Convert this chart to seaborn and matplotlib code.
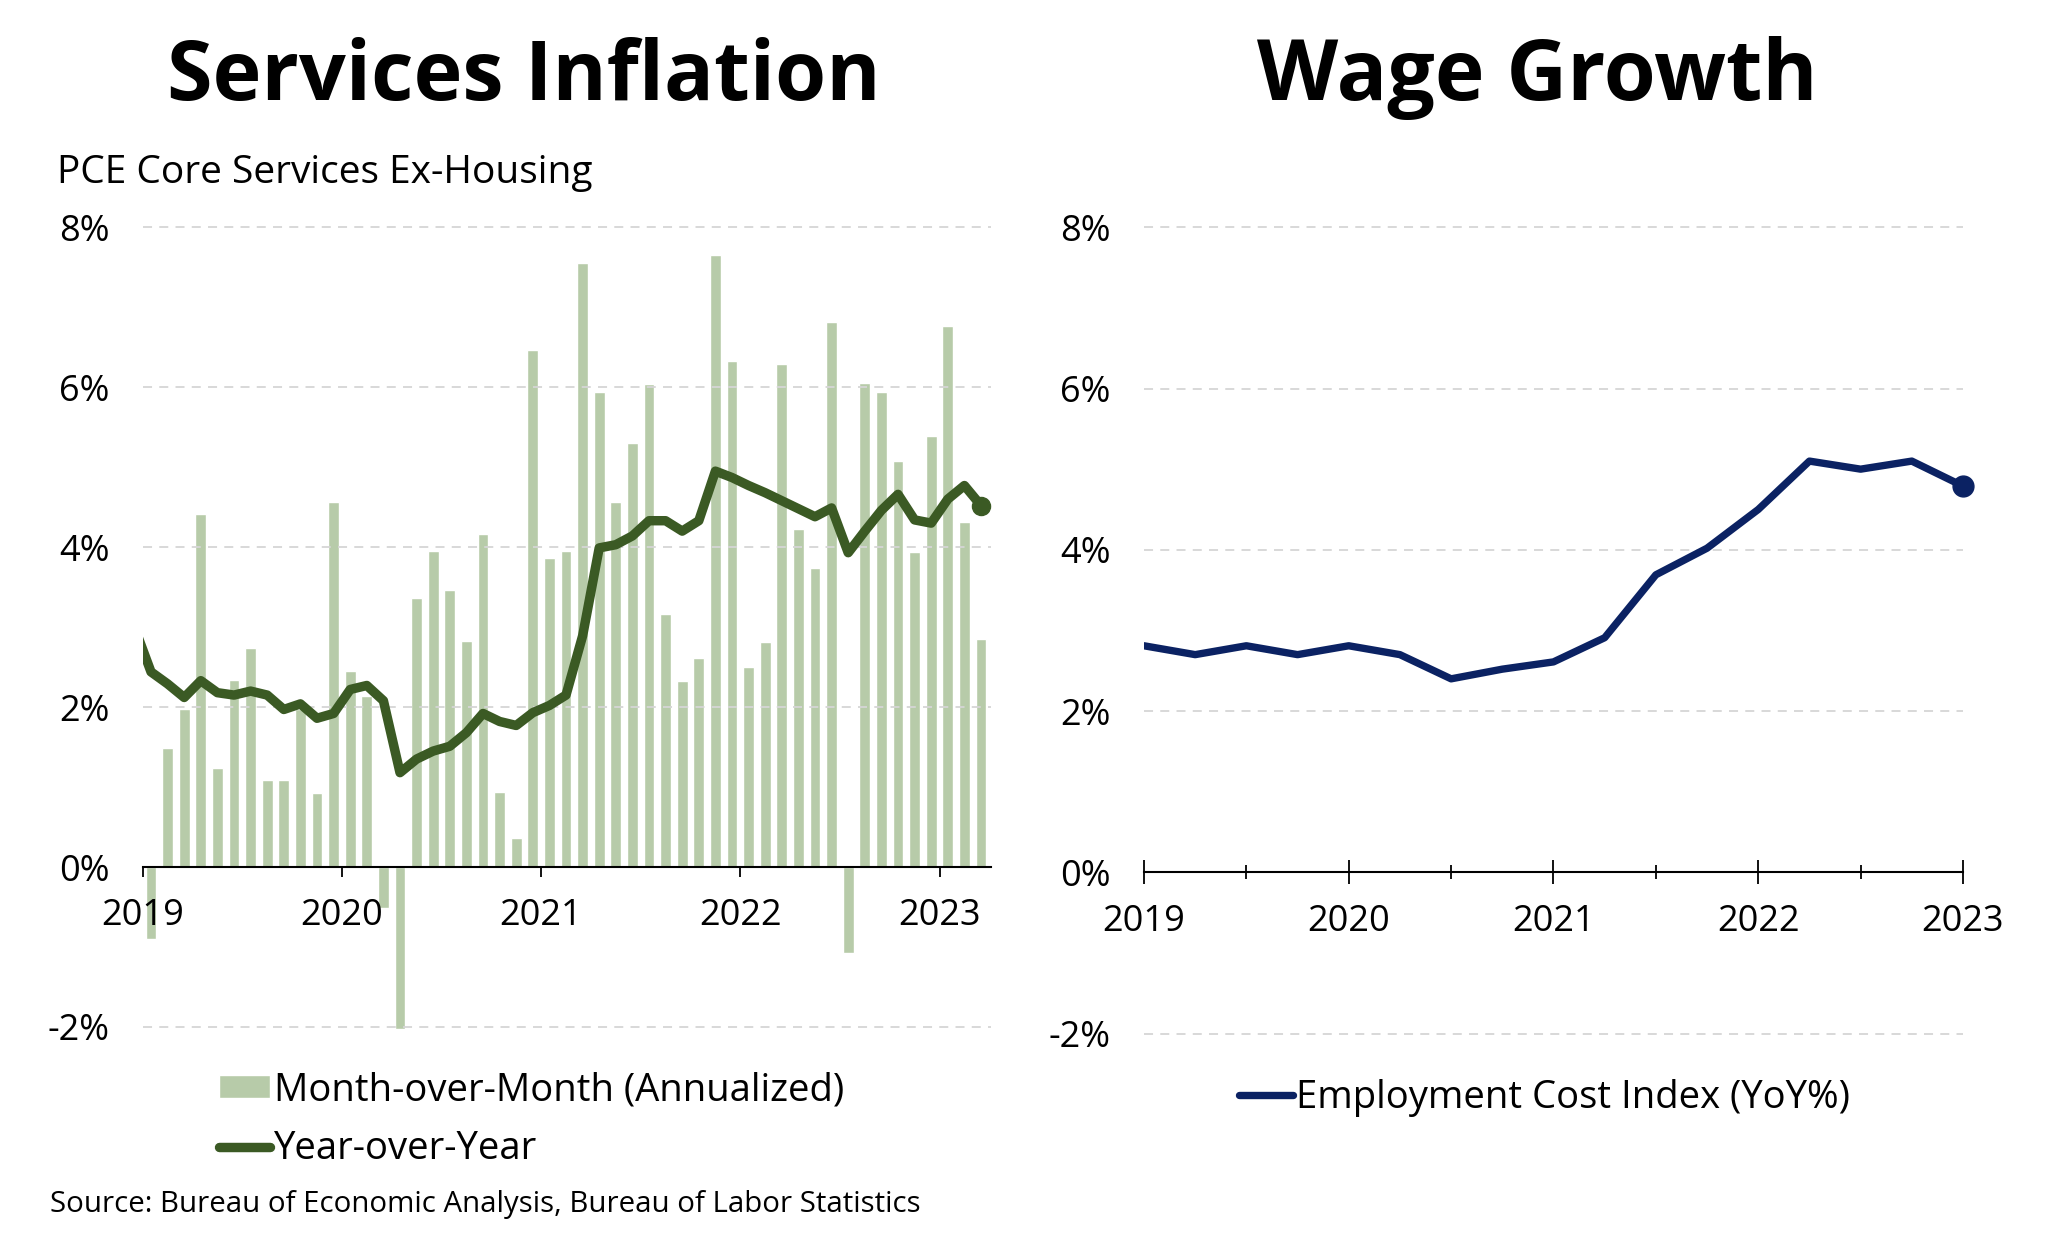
import pandas as pd
import matplotlib.pyplot as plt
import matplotlib.ticker as mticker
import seaborn as sns

# PCE core services ex-housing, month-over-month annualized (%), Jan 2019 - Mar 2023
mom_months = pd.period_range("2019-01", "2023-03", freq="M")
mom_annualized = [
    -0.90, 1.49, 1.98, 4.42, 1.24, 2.34, 2.74, 1.09, 1.09, 1.98, 0.92, 4.57,
    2.45, 2.14, -0.51, -2.02, 3.37, 3.95, 3.47, 2.82, 4.16, 0.94, 0.36, 6.46,
    3.86, 3.95, 7.55, 5.94, 4.56, 5.30, 6.04, 3.16, 2.32, 2.61, 7.65, 6.33,
    2.50, 2.81, 6.29, 4.23, 3.74, 6.82, -1.07, 6.05, 5.94, 5.08, 3.94, 5.39,
    6.76, 4.31, 2.85,
]

# year-over-year (%), Dec 2018 - Mar 2023
yoy_months = pd.period_range("2018-12", "2023-03", freq="M")
yoy = [
    3.00,
    2.44, 2.29, 2.12, 2.33, 2.18, 2.15, 2.20, 2.15, 1.97, 2.04, 1.86, 1.92,
    2.22, 2.27, 2.08, 1.18, 1.35, 1.45, 1.51, 1.68, 1.92, 1.82, 1.77, 1.93,
    2.02, 2.15, 2.89, 3.99, 4.03, 4.14, 4.33, 4.33, 4.20, 4.33, 4.95, 4.87,
    4.77, 4.68, 4.58, 4.48, 4.38, 4.49, 3.93, 4.20, 4.46, 4.66, 4.34, 4.30,
    4.60, 4.77, 4.52,
]

# Employment Cost Index, YoY (%), quarterly
eci_quarters = [
    "2019Q1", "2019Q2", "2019Q3", "2019Q4", "2020Q1", "2020Q2", "2020Q3", "2020Q4",
    "2021Q1", "2021Q2", "2021Q3", "2021Q4", "2022Q1", "2022Q2", "2022Q3", "2022Q4",
    "2023Q1",
]
eci_yoy = [2.81, 2.70, 2.81, 2.70, 2.81, 2.70, 2.40, 2.52, 2.61, 2.91, 3.69, 4.02,
           4.50, 5.10, 5.00, 5.10, 4.79]

years = [2019, 2020, 2021, 2022, 2023]
pct_ticks = [-2, 0, 2, 4, 6, 8]

BAR = "#b7cba9"
DKGREEN = "#3b5a24"
NAVY = "#0b2263"
GRID = "#d6d6d6"

df_mom = pd.DataFrame({
    "pos": [p.year + (p.month - 0.5) / 12 for p in mom_months],
    "value": mom_annualized,
})
df_yoy = pd.DataFrame({
    "pos": [p.year + (p.month - 0.5) / 12 for p in yoy_months],
    "value": yoy,
})
pq = pd.PeriodIndex(eci_quarters, freq="Q")
df_eci = pd.DataFrame({"pos": pq.year + (pq.quarter - 1) / 4, "value": eci_yoy})

sns.set_style("white")
plt.rcParams["font.family"] = ["Open Sans", "DejaVu Sans"]
plt.rcParams["text.color"] = "black"
plt.rcParams["xtick.color"] = "black"
plt.rcParams["ytick.color"] = "black"

fig = plt.figure(figsize=(20.48, 12.44), dpi=100)
ax1 = fig.add_axes([0.06968, 0.16158, 0.41406, 0.66865])
ax2 = fig.add_axes([0.55859, 0.15611, 0.39990, 0.67420])

# ---- left: services inflation
sns.barplot(data=df_mom, x="pos", y="value", native_scale=True, width=0.66,
            color=BAR, saturation=1, errorbar=None, ax=ax1,
            label="Month-over-Month (Annualized)")
sns.lineplot(data=df_yoy, x="pos", y="value", color=DKGREEN, linewidth=6.8,
             errorbar=None, ax=ax1, label="Year-over-Year", zorder=3,
             solid_capstyle="round", solid_joinstyle="round")
ax1.plot(df_yoy["pos"].iloc[-1], df_yoy["value"].iloc[-1], "o", ms=13,
         color=DKGREEN, clip_on=False, zorder=4)
ax1.set_xlim(2019, 2023.257)

# ---- right: wage growth
sns.lineplot(data=df_eci, x="pos", y="value", color=NAVY, linewidth=5.3,
             errorbar=None, ax=ax2, label="Employment Cost Index (YoY%)", zorder=3,
             solid_capstyle="round", solid_joinstyle="round")
ax2.plot(df_eci["pos"].iloc[-1], df_eci["value"].iloc[-1], "o", ms=15,
         color=NAVY, clip_on=False, zorder=4)
ax2.set_xlim(2019, 2023)

for ax in (ax1, ax2):
    ax.set_ylim(-2.2, 8.2)
    ax.set_yticks(pct_ticks)
    ax.yaxis.set_major_formatter(mticker.FuncFormatter(lambda v, p: f"{v:.0f}%"))
    ax.set_xticks(years)
    ax.set_xticklabels([str(y) for y in years])
    ax.set_xlabel("")
    ax.set_ylabel("")
    ax.yaxis.grid(True, linestyle=(0, (5, 4)), color=GRID, linewidth=1.3)
    ax.xaxis.grid(False)
    ax.set_axisbelow(False)
    for s in ("top", "right", "left"):
        ax.spines[s].set_visible(False)
    ax.spines["bottom"].set_position(("data", 0))
    ax.spines["bottom"].set_color("black")
    ax.spines["bottom"].set_linewidth(1.5)
    ax.spines["bottom"].set_zorder(5)
    ax.tick_params(axis="y", length=0, pad=24, labelsize=26, labelcolor="black")
    ax.legend_.remove()

ax1.tick_params(axis="x", direction="out", length=7, width=1.3, pad=15.5,
                labelsize=26, color="black", labelcolor="black", bottom=True)
ax2.xaxis.set_minor_locator(mticker.FixedLocator([2019.5, 2020.5, 2021.5, 2022.5]))
ax2.tick_params(axis="x", which="major", direction="inout", length=17, width=1.3,
                pad=14, labelsize=26, color="black", labelcolor="black", bottom=True)
ax2.tick_params(axis="x", which="minor", direction="inout", length=10, width=1.3,
                color="black", bottom=True)

# legends (bars first, then line)
h1, l1 = ax1.get_legend_handles_labels()
order = [l1.index("Month-over-Month (Annualized)"), l1.index("Year-over-Year")]
ax1.legend([h1[i] for i in order], [l1[i] for i in order], loc="center left",
           bbox_to_anchor=(0.1069, 0.0997), bbox_transform=fig.transFigure,
           frameon=False, fontsize=27.5, handlelength=1.35, handleheight=0.55,
           handletextpad=0.1, labelspacing=0.55, borderpad=0, borderaxespad=0)
h2, l2 = ax2.get_legend_handles_labels()
ax2.legend(h2, l2, loc="center left", bbox_to_anchor=(0.605, 0.1174),
           bbox_transform=fig.transFigure, frameon=False, fontsize=27.5,
           handlelength=1.4, handletextpad=0.1, borderpad=0, borderaxespad=0)

# titles and notes
fig.text(524 / 2048, 1 - 100 / 1244, "Services Inflation", ha="center", va="baseline",
         fontsize=59.5, fontweight="bold")
fig.text(1537 / 2048, 1 - 100 / 1244, "Wage Growth", ha="center", va="baseline",
         fontsize=60.5, fontweight="bold")
fig.text(57 / 2048, 1 - 183 / 1244, "PCE Core Services Ex-Housing", ha="left",
         va="baseline", fontsize=28)
fig.text(50 / 2048, 1 - 1212 / 1244,
         "Source: Bureau of Economic Analysis, Bureau of Labor Statistics",
         ha="left", va="baseline", fontsize=21.2)

fig.savefig("out.png", dpi=100, facecolor="white")
